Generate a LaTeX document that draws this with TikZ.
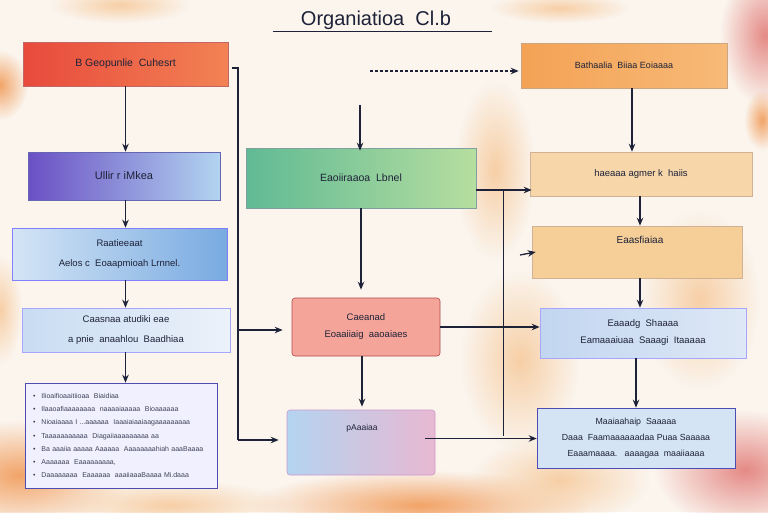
\documentclass[tikz,border=0pt]{standalone}
\usepackage{fontspec}
\setmainfont{Liberation Sans}
\usetikzlibrary{arrows,arrows.meta,calc,fadings,shadings}
\definecolor{paper}{HTML}{FBF5EE}
\definecolor{ink}{HTML}{1E2238}
\definecolor{wash}{HTML}{F2A468}
\definecolor{peach}{HTML}{F7CFA6}
\definecolor{rosy}{HTML}{E58A86}
\tikzfading[name=blob, inner color=transparent!0, outer color=transparent!100]
\newcommand{\itm}{\textbullet\hspace{6pt}}

\begin{document}
\begin{tikzpicture}[x=1pt,y=-1pt,
  box/.style={draw=#1, line width=0.6pt, inner sep=2pt, align=center,
    font=\fontsize{9.5}{20}\selectfont, text=ink},
  arr/.style={-{Stealth[length=8pt,width=6.5pt]},line width=1.3pt,draw=ink},
  wire/.style={line width=1.1pt,draw=ink}]
% paper and watercolour wash
\fill[paper] (0,0) rectangle (768,512);
\useasboundingbox (0,0) rectangle (768,512);
\foreach \x/\y/\rx/\ry/\c in {0/85/28/35/wash, 0/310/22/55/peach, 20/475/110/55/wash,
    170/505/120/25/peach, 420/505/170/35/wash, 560/480/90/45/peach,
    745/470/90/60/rosy, 765/35/45/70/rosy, 762/120/18/30/wash, 120/5/70/18/peach,
    560/8/70/15/peach, 495/170/40/90/peach, 520/360/60/90/peach, 700/300/60/90/peach}
  \fill[\c, path fading=blob] (\x,\y) ellipse [x radius=\rx, y radius=\ry];
% title
\node[font=\fontsize{20}{24}\selectfont, text=ink] (title) at (376,20) {Organiatioa\ \ Cl.b};
\draw[line width=1pt, ink] (273,31) -- (492,31);
% left column
\node[box=red!60!black!60, left color={rgb,255:red,232;green,74;blue,60}, right color={rgb,255:red,242;green,130;blue,84},
  minimum width=205pt, minimum height=44pt, font=\fontsize{10.5}{13}\selectfont] (b1) at (125.5,64) {B Geopunlie\ \ Cuhesrt};
\node[box=blue!50!black!60, left color={rgb,255:red,106;green,80;blue,196}, right color={rgb,255:red,178;green,212;blue,240},
  minimum width=192pt, minimum height=48pt, font=\fontsize{11}{13}\selectfont] (b2) at (124,176) {Ullir r iMkea};
\node[box=blue!50, left color={rgb,255:red,212;green,229;blue,245}, right color={rgb,255:red,120;green,170;blue,225},
  minimum width=215pt, minimum height=52pt] (b3) at (119.5,254) {Raatieeaat\\Aelos c\ \ Eoaapmioah Lrnnel.};
\node[box=blue!35, left color={rgb,255:red,200;green,220;blue,242}, right color={rgb,255:red,236;green,242;blue,250},
  minimum width=208pt, minimum height=44pt] (b4) at (126,330) {Caasnaa atudiki eae\\a pnie\ \ anaahlou\ \ Baadhiaa};
\node[box=blue!40!gray, fill=white!94!blue, minimum width=192pt, minimum height=105pt,
  text width=176pt, align=left, font=\fontsize{7}{13.3}\selectfont, text=ink!85] (list) at (121,435.5)
  {\itm Ilioaifioaaitiioaa\ \ Biaidiaa\\
   \itm Ilaaoafiaaaaaaaa\ \ naaaaiaaaaa\ \ Bioaaaaaa\\
   \itm Nioaiaaaa I ...aaaaaa\ \ Iaaaiaiaaiaagaaaaaaaaa\\
   \itm Taaaaaaaaaaa\ \ Diagaiiaaaaaaaaa\ aa\\
   \itm Ba aaaiia aaaaa\ Aaaaaa\ \ Aaaaaaaahiah aaaBaaaa\\
   \itm Aaaaaaa\ \ Eaaaaaaaaa,\\
   \itm Daaaaaaaa\ \ Eaaaaaa\ \ aaaiiaaaBaaaa\ Mi.daaa};
% middle column
\node[box=teal!50!black!50, left color={rgb,255:red,96;green,186;blue,148}, right color={rgb,255:red,182;green,222;blue,160},
  minimum width=230pt, minimum height=60pt, font=\fontsize{10.5}{13}\selectfont] (b6) at (361,178) {Eaoiiraaoa\ \ Lbnel};
\node[box=red!40!gray, fill={rgb,255:red,245;green,164;blue,154}, rounded corners=3pt,
  minimum width=148pt, minimum height=58pt, font=\fontsize{9.5}{17}\selectfont] (b7) at (366,327) {Caeanad\\Eoaaiiaig\ \ aaoaiaes};
\node[box=violet!40, left color={rgb,255:red,180;green,212;blue,240}, right color={rgb,255:red,232;green,184;blue,210}, rounded corners=3pt,
  minimum width=148pt, minimum height=65pt] (b8) at (361,442.5) {};
\node[font=\fontsize{8.5}{10}\selectfont, text=ink] (b8t) at (362,428) {pAaaiaa};
% right column
\node[box=orange!60!black!50, left color={rgb,255:red,244;green,162;blue,85}, right color={rgb,255:red,247;green,186;blue,120},
  minimum width=206pt, minimum height=45pt, font=\fontsize{9}{13}\selectfont] (b9) at (624,65.5) {Bathaalia\ \ Biiaa Eoiaaaa};
\node[box=orange!40!gray!60, fill={rgb,255:red,247;green,214;blue,170}, minimum width=222pt, minimum height=44pt]
  (b10) at (641,174) {haeaaa agmer k\ \ haiis};
\node[box=orange!40!gray!60, fill={rgb,255:red,245;green,206;blue,152}, minimum width=210pt, minimum height=52pt]
  (b11) at (637,252) {};
\node[font=\fontsize{10}{12}\selectfont, text=ink] (b11t) at (640,240) {Eaasfiaiaa};
\node[box=blue!35, left color={rgb,255:red,194;green,214;blue,240}, right color={rgb,255:red,222;green,232;blue,246},
  minimum width=206pt, minimum height=50pt, font=\fontsize{9.5}{17}\selectfont] (b12) at (643,333)
  {Eaaadg\ \ Shaaaa\\Eamaaaiuaa\ \ Saaagi\ \ Itaaaaa};
\node[box=blue!40!gray, fill={rgb,255:red,212;green,228;blue,244}, minimum width=198pt, minimum height=60pt,
  font=\fontsize{8.8}{16}\selectfont] (b13) at (636,438)
  {Maaiaahaip\ \ Saaaaa\\Daaa\ \ Faamaaaaaadaa\ Puaa\ Saaaaa\\Eaaamaaaa.\ \ \ aaaagaa\ \ maaiiaaaa};
% connectors, left column
\draw[arr] (b1.south) -- (b1.south |- b2.north);
\draw[arr] (b1.south |- b2.south) -- (b1.south |- b3.north);
\draw[arr] (b1.south |- b3.south) -- (b1.south |- b4.north);
\draw[arr] (b1.south |- b4.south) -- (b1.south |- list.north);
\coordinate[] (tk1) at (238,68);
\coordinate[] (tk2) at (238,330);
\coordinate[] (tk3) at (238,440);
\draw[wire] ([xshift=4pt]b1.east |- tk1) -- (tk1) -- (tk3);
\draw[arr, shorten >=9pt] (tk2) -- (b7.west |- tk2);
\draw[arr, shorten >=8pt] (tk3) -- (b8.west |- tk3);
% connectors, middle
\coordinate[] (ds) at (370,71);
\draw[arr, densely dashed] (ds) -- ([xshift=-2pt]b9.west |- ds);
\coordinate[] (gt) at (360,105);
\draw[arr] (gt) -- ([yshift=-3pt]gt |- b6.north);
\draw[arr, shorten >=8pt] (b6.south) -- (b6.south |- b7.north);
\draw[arr, shorten >=3pt] (b7.south -| b8t) -- (b8t |- b8.north);
\draw[arr] (b7.east) -- (b7.east -| b12.west);
\draw[arr] ([xshift=-10pt,yshift=4pt]b8.east) -- ([yshift=4pt]b8.east -| b13.west);
% connectors, right column
\coordinate[] (gr) at (476,190);
\coordinate[] (jn1) at (503,190);
\coordinate[] (jn2) at (503,436);
\draw[arr] (gr) -- ([xshift=2pt]b10.west |- gr);
\draw[line width=0.9pt, ink] (jn1) -- (jn2);
\coordinate[] (s11) at (520,255);
\draw[arr] (s11) -- ([xshift=4pt]b11.west);
\draw[arr] (b9.south -| 632,0) -- (b10.north -| 632,0);
\draw[arr] (b10.south -| b11t) -- (b11t |- b11.north);
\draw[arr] (b11.south -| b11t) -- (b11t |- b12.north);
\draw[arr] (b12.south -| b13.north) -- (b13.north);
\end{tikzpicture}
\end{document}
